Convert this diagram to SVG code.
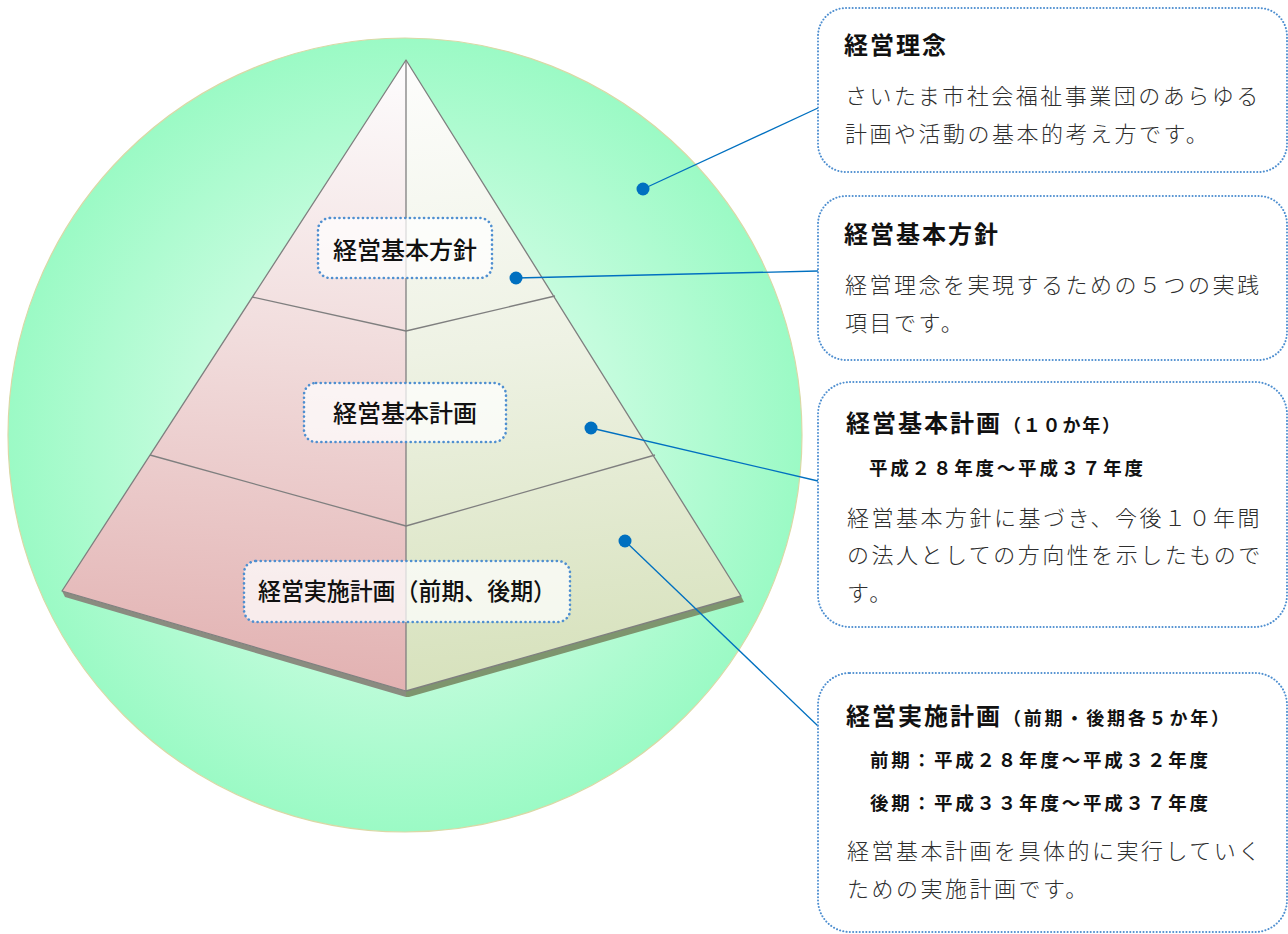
<svg xmlns="http://www.w3.org/2000/svg" width="1288" height="934" viewBox="0 0 1288 934">
<defs>
<radialGradient id="gCircle" cx="405" cy="435" r="397" gradientUnits="userSpaceOnUse">
<stop offset="0" stop-color="#eafef2"/>
<stop offset="0.55" stop-color="#c2fcdc"/>
<stop offset="1" stop-color="#9bfac5"/>
</radialGradient>
<linearGradient id="gLeft" x1="300" y1="60" x2="260" y2="690" gradientUnits="userSpaceOnUse">
<stop offset="0" stop-color="#fdfcfd"/>
<stop offset="0.45" stop-color="#f1dcdc"/>
<stop offset="1" stop-color="#e2b1b1"/>
</linearGradient>
<linearGradient id="gRight" x1="500" y1="60" x2="560" y2="690" gradientUnits="userSpaceOnUse">
<stop offset="0" stop-color="#fdfdfc"/>
<stop offset="0.45" stop-color="#eef2e4"/>
<stop offset="1" stop-color="#d6e1bb"/>
</linearGradient>
<style>
.edge{fill:none;stroke:#7f7f7f;stroke-width:1.3;stroke-linejoin:round}
.lbl{fill:#ffffff;fill-opacity:0.72;stroke:#4f8fd0;stroke-width:2.6;stroke-dasharray:0.1 4.6;stroke-linecap:round}
.box{fill:#ffffff;stroke:#4f8fd0;stroke-width:2;stroke-dasharray:0.1 3.2;stroke-linecap:round}
.pl{font-family:"Noto Sans CJK JP","Noto Sans CJK SC",sans-serif;font-weight:500;font-size:24px;fill:#111;text-anchor:middle}
.tt{font-family:"Noto Sans CJK JP","Noto Sans CJK SC",sans-serif;font-weight:bold;font-size:24px;fill:#111;letter-spacing:2px}
.ts{font-family:"Noto Sans CJK JP","Noto Sans CJK SC",sans-serif;font-weight:bold;font-size:18px;fill:#111}
.sub{font-family:"Noto Sans CJK JP","Noto Sans CJK SC",sans-serif;font-weight:bold;font-size:18.5px;fill:#111;letter-spacing:2.8px}
.bd{font-family:"Noto Sans CJK JP","Noto Sans CJK SC",sans-serif;font-weight:300;font-size:22px;fill:#2e2e2e;letter-spacing:2.5px}
.con{stroke:#0070c0;stroke-width:1.3;fill:none}
.dot{fill:#0070c0}
</style>
</defs>
<rect width="1288" height="934" fill="#ffffff"/>
<g id="circle">
<circle cx="405" cy="435" r="397" fill="url(#gCircle)" stroke="#d9d9a6" stroke-width="1.2"/>
</g>
<g id="pyramid">
<polygon points="62,591 406,691 406,697 65,597" fill="#8a8c80"/>
<polygon points="406,691 741,596 744,602 409,697 406,697" fill="#7e956e"/>
<polygon points="406,60 62,591 406,691" fill="url(#gLeft)"/>
<polygon points="406,60 741,596 406,691" fill="url(#gRight)"/>
<polyline class="edge" points="252,297 406,331 555,296"/>
<polyline class="edge" points="150,455 406,526 655,455"/>
<line class="edge" x1="406" y1="60" x2="406" y2="691"/>
<polygon class="edge" points="406,60 62,591 406,691 741,596"/>
</g>
<g id="label-houshin">
<rect class="lbl" x="318" y="218" width="174" height="60" rx="12"/>
<text class="pl" x="405" y="259">経営基本方針</text>
</g>
<g id="label-keikaku">
<rect class="lbl" x="304" y="383" width="202" height="59" rx="12"/>
<text class="pl" x="405" y="422">経営基本計画</text>
</g>
<g id="label-jisshi">
<rect class="lbl" x="244" y="561" width="326" height="61" rx="12"/>
<text class="pl" x="407" y="600" textLength="298" lengthAdjust="spacingAndGlyphs">経営実施計画（前期、後期）</text>
</g>
<g id="connectors">
<line class="con" x1="643" y1="189" x2="818" y2="108"/>
<line class="con" x1="516" y1="278" x2="818" y2="271"/>
<line class="con" x1="591" y1="428" x2="818" y2="481"/>
<line class="con" x1="625" y1="541" x2="818" y2="726"/>
<circle class="dot" cx="643" cy="189" r="6.5"/>
<circle class="dot" cx="516" cy="278" r="6.5"/>
<circle class="dot" cx="591" cy="428" r="6.5"/>
<circle class="dot" cx="625" cy="541" r="6.5"/>
</g>
<g id="box-rinen">
<rect class="box" x="818" y="8" width="469" height="164" rx="28"/>
<text class="tt" x="844" y="54">経営理念</text>
<text class="bd" x="845" y="104">さいたま市社会福祉事業団のあらゆる</text>
<text class="bd" x="845" y="142">計画や活動の基本的考え方です。</text>
</g>
<g id="box-houshin">
<rect class="box" x="818" y="196" width="469" height="164" rx="28"/>
<text class="tt" x="844" y="243">経営基本方針</text>
<text class="bd" x="845" y="293">経営理念を実現するための５つの実践</text>
<text class="bd" x="845" y="331">項目です。</text>
</g>
<g id="box-keikaku">
<rect class="box" x="818" y="382" width="469" height="245" rx="32"/>
<text class="tt" x="846" y="432">経営基本計画</text>
<text class="ts" x="1003" y="432" letter-spacing="1.8">（１０か年）</text>
<text class="sub" x="869" y="475">平成２８年度～平成３７年度</text>
<text class="bd" x="847" y="526">経営基本方針に基づき、今後１０年間</text>
<text class="bd" x="847" y="563">の法人としての方向性を示したもので</text>
<text class="bd" x="847" y="601">す。</text>
</g>
<g id="box-jisshi">
<rect class="box" x="818" y="673" width="469" height="259" rx="32"/>
<text class="tt" x="846" y="725">経営実施計画</text>
<text class="ts" x="1003" y="725" letter-spacing="2.8">（前期・後期各５か年）</text>
<text class="sub" x="870" y="767">前期：平成２８年度～平成３２年度</text>
<text class="sub" x="870" y="810">後期：平成３３年度～平成３７年度</text>
<text class="bd" x="847" y="859">経営基本計画を具体的に実行していく</text>
<text class="bd" x="847" y="897">ための実施計画です。</text>
</g>
</svg>
